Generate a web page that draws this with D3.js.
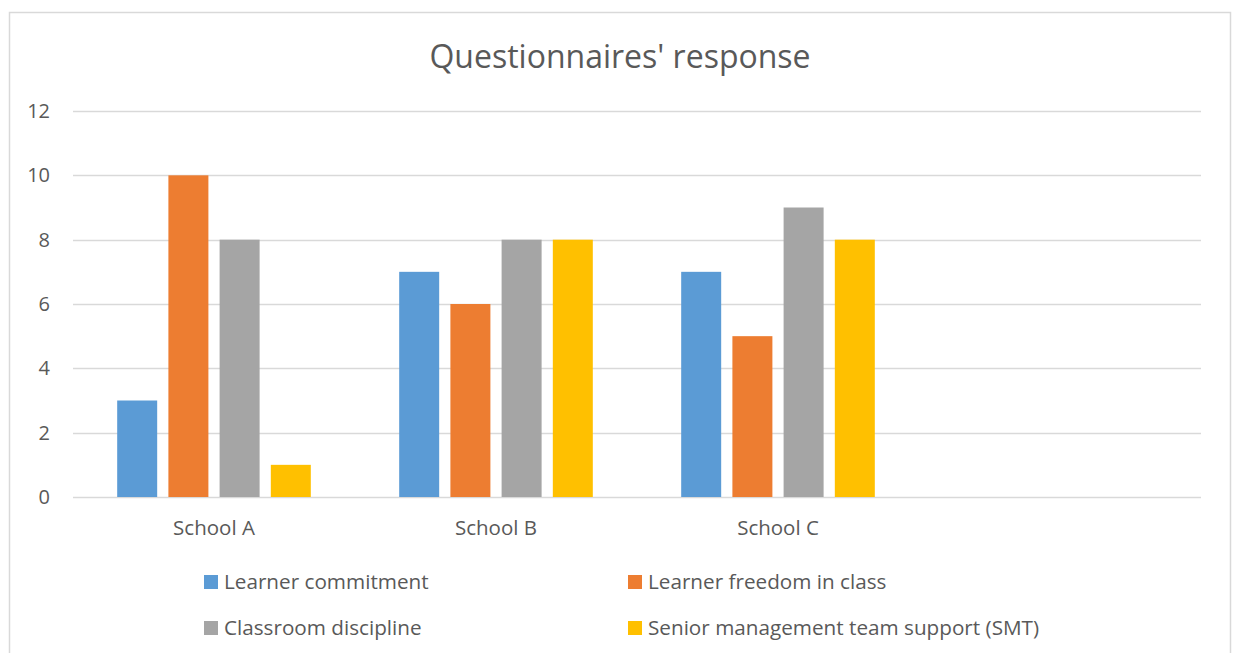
<!DOCTYPE html>
<html><head><meta charset="utf-8">
<script src="https://cdn.jsdelivr.net/npm/d3@7"></script>
<style>body{margin:0;background:#fff;} svg{display:block;}</style>
</head><body>
<svg id="c" width="1237" height="653"></svg>
<script>
const categories = ["School A", "School B", "School C", ""];
const seriesNames = ["Learner commitment", "Learner freedom in class", "Classroom discipline", "Senior management team support (SMT)"];
const seriesColors = ["#5B9BD5", "#ED7D31", "#A5A5A5", "#FFC000"];
const learnerCommitment = [3, 7, 7];
const learnerFreedom = [10, 6, 5];
const classroomDiscipline = [8, 8, 9];
const smtSupport = [1, 8, 8];
const yTicks = [0, 2, 4, 6, 8, 10, 12];
const title = "Questionnaires' response";

const seriesValues = [learnerCommitment, learnerFreedom, classroomDiscipline, smtSupport];
const font = "'Open Sans', sans-serif";
const svg = d3.select("#c");
const textColor = "#595959";

// frame
svg.append("rect").attr("x", 9.5).attr("y", 12.5).attr("width", 1221).attr("height", 700)
  .attr("fill", "#fff").attr("stroke", "#d9d9d9").attr("stroke-width", 1.5);

const x0 = d3.scaleBand().domain(categories).range([73, 1201]).paddingInner(0).paddingOuter(0);
const x1 = d3.scaleBand().domain(d3.range(4)).range([0, x0.bandwidth()]).paddingInner(0.219).paddingOuter(0.863);
const y = d3.scaleLinear().domain([0, 12]).range([497, 111]);

// gridlines
svg.append("g").selectAll("line").data(yTicks).join("line")
  .attr("x1", 73).attr("x2", 1201)
  .attr("y1", d => Math.round(y(d)) + 0.5).attr("y2", d => Math.round(y(d)) + 0.5)
  .attr("stroke", "#d9d9d9").attr("stroke-width", 1.3);

// y labels
svg.append("g").selectAll("text").data(yTicks).join("text")
  .attr("x", 50).attr("y", d => y(d) + 7)
  .attr("text-anchor", "end").attr("fill", textColor)
  .style("font-family", font).style("font-size", "20px").text(d => d);

// bars
const groups = svg.append("g").selectAll("g").data(categories.slice(0, 3)).join("g")
  .attr("transform", c => `translate(${x0(c)},0)`);
groups.selectAll("rect").data((c, i) => seriesValues.map((s, k) => ({k, v: s[i]}))).join("rect")
  .attr("x", d => x1(d.k)).attr("width", x1.bandwidth())
  .attr("y", d => y(d.v)).attr("height", d => y(0) - y(d.v))
  .attr("fill", d => seriesColors[d.k]);

// x labels
svg.append("g").selectAll("text").data(categories).join("text")
  .attr("x", c => x0(c) + x0.bandwidth() / 2).attr("y", 535)
  .attr("text-anchor", "middle").attr("fill", textColor)
  .style("font-family", font).style("font-size", "20.5px").text(c => c);

// title
svg.append("text").attr("x", 620).attr("y", 68).attr("text-anchor", "middle")
  .attr("fill", textColor).style("font-family", font).style("font-size", "32px").text(title);

// legend
const legPos = [[204, 589], [628, 589], [204, 635], [628, 635]];
const leg = svg.append("g").selectAll("g").data(seriesNames).join("g")
  .attr("transform", (d, i) => `translate(${legPos[i][0]},${legPos[i][1]})`);
leg.append("rect").attr("x", 0).attr("y", -14).attr("width", 14).attr("height", 14)
  .attr("fill", (d, i) => seriesColors[i]);
leg.append("text").attr("x", 20).attr("y", 0).attr("fill", textColor)
  .style("font-family", font).style("font-size", "20.7px").text(d => d);
</script>
</body></html>
